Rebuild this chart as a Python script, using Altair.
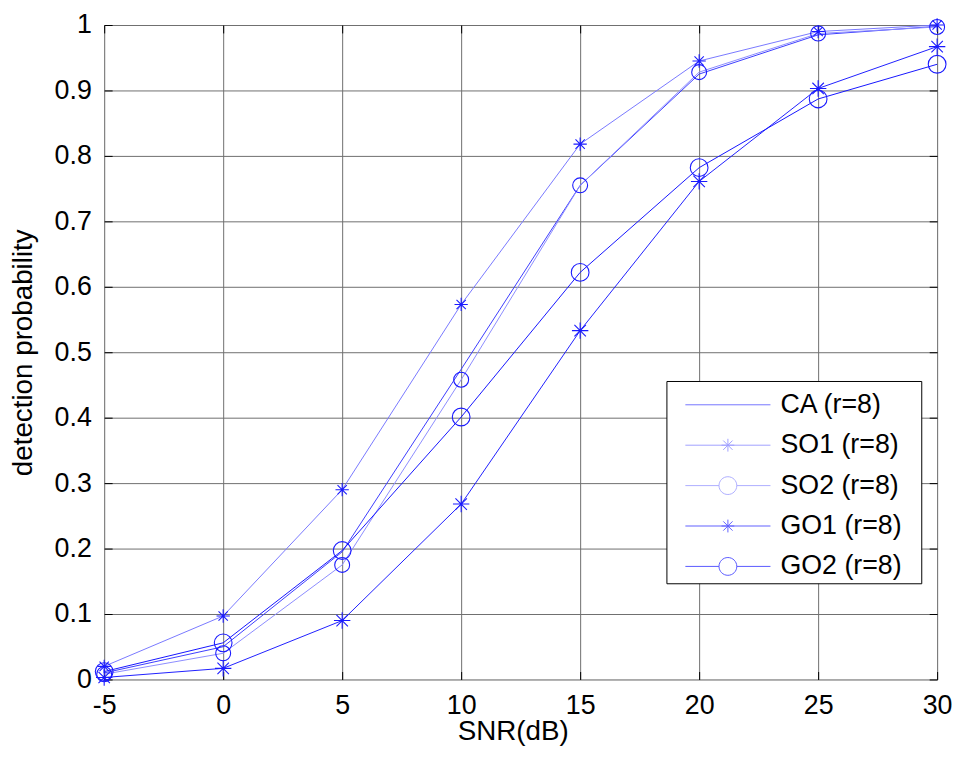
import altair as alt
import pandas as pd

snr = [-5, 0, 5, 10, 15, 20, 25, 30]
ca = [0.010, 0.050, 0.195, 0.474, 0.755, 0.925, 0.985, 0.998]
so1 = [0.020, 0.097, 0.290, 0.573, 0.818, 0.945, 0.990, 1.000]
so2 = [0.008, 0.040, 0.175, 0.458, 0.755, 0.928, 0.987, 0.997]
go1 = [0.003, 0.017, 0.090, 0.268, 0.533, 0.761, 0.903, 0.967]
go2 = [0.012, 0.056, 0.197, 0.401, 0.622, 0.782, 0.887, 0.940]

names = ["CA (r=8)", "SO1 (r=8)", "SO2 (r=8)", "GO1 (r=8)", "GO2 (r=8)"]
line_colors = ["#3c3cff", "#7878ff", "#8c8cff", "#1e1eff", "#1414ff"]
y_ticks = [0, 0.1, 0.2, 0.3, 0.4, 0.5, 0.6, 0.7, 0.8, 0.9, 1]

series = [ca, so1, so2, go1, go2]
rows = []
for name, vals in zip(names, series):
    for s, v in zip(snr, vals):
        rows.append({"snr": s, "p": v, "series": name})
df = pd.DataFrame(rows)

FONT = "Liberation Sans"
W, H = 840, 660

ASTER = "M-1,0L1,0M0,-1L0,1M-0.7,-0.7L0.7,0.7M-0.7,0.7L0.7,-0.7"
LEG_LINE = "M-2.2,0L2.2,0"
LEG_AST = "M-2.2,0L2.2,0M-0.33,0L0.33,0M0,-0.33L0,0.33M-0.24,-0.24L0.24,0.24M-0.24,0.24L0.24,-0.24"
LEG_CIRC = ("M-2.2,0L-0.46,0M0.46,0L2.2,0M0.46,0A0.46,0.46,0,1,1,-0.46,0"
            "A0.46,0.46,0,1,1,0.46,0")

xscale = alt.Scale(domain=[-5, 30], nice=False, zero=False)
yscale = alt.Scale(domain=[0, 1], nice=False, zero=False)
cscale = alt.Scale(domain=names, range=line_colors)

base_axis = dict(labelFont=FONT, labelColor="black", titleFont=FONT,
                 titleColor="black", titleFontWeight="normal",
                 labelFlush=False, labelOverlap=False,
                 labelExpr="'' + datum.value")

GRID = "#6e6e6e"

lines = alt.Chart(df).mark_line(strokeWidth=1).encode(
    x=alt.X("snr:Q", scale=xscale, axis=alt.Axis(
        values=snr, grid=True, gridColor=GRID, gridOpacity=1, gridWidth=1,
        ticks=False, tickSize=0, domain=False, labelFontSize=27,
        labelPadding=13, title="SNR(dB)", titleFontSize=28, titlePadding=0,
        titleX=412, orient="bottom", **base_axis)),
    y=alt.Y("p:Q", scale=yscale, axis=alt.Axis(
        values=y_ticks, grid=True, gridColor=GRID,
        gridOpacity=1, gridWidth=1, ticks=False, tickSize=0, domain=False,
        labelFontSize=27, labelPadding=13, title="detection probability",
        titleFontSize=28, titlePadding=17, orient="left", **base_axis)),
    color=alt.Color("series:N", scale=cscale, legend=None),
    order=alt.Order("snr:Q"),
)

tick_axis = dict(labels=False, domain=False, grid=False, ticks=True,
                 tickSize=8, tickColor="black", tickWidth=1, title=None)

points = alt.Chart(df).transform_filter(
    alt.datum.series != names[0]
).mark_point(filled=False, strokeWidth=1.1, color="#1a1aff", opacity=1).encode(
    x=alt.X("snr:Q", scale=xscale, axis=alt.Axis(
        values=snr, orient="top", offset=-H, **tick_axis)),
    y=alt.Y("p:Q", scale=yscale, axis=alt.Axis(
        values=y_ticks, orient="right", offset=-W, **tick_axis)),
    shape=alt.Shape("series:N", scale=alt.Scale(
        domain=names[1:], range=[ASTER, "circle", ASTER, "circle"]), legend=None),
    size=alt.Size("series:N", scale=alt.Scale(
        domain=names[1:], range=[180, 320, 180, 320]), legend=None),
)

legend_props = dict(
    title=None, orient="none", legendX=567, legendY=359, padding=4,
    rowPadding=7.75, symbolOffset=38, labelOffset=33, symbolSize=1521,
    symbolStrokeWidth=1, labelFont=FONT, labelFontSize=27,
    labelColor="black", strokeColor="black", fillColor="white",
    cornerRadius=0, labelLimit=300,
    labelExpr="datum.label + '\u00a0\u00a0\u200b'")

legend_layer = alt.Chart(df).transform_filter("false").mark_point(
    filled=False, strokeWidth=1
).encode(
    x=alt.X("snr:Q", scale=xscale, axis=alt.Axis(
        values=snr, orient="bottom", offset=-H, **tick_axis)),
    y=alt.Y("p:Q", scale=yscale, axis=alt.Axis(
        values=y_ticks, orient="left", offset=-W, **tick_axis)),
    color=alt.Color("series:N", scale=cscale, legend=alt.Legend(**legend_props)),
    shape=alt.Shape("series:N", scale=alt.Scale(
        domain=names, range=[LEG_LINE, LEG_AST, LEG_CIRC, LEG_AST, LEG_CIRC]),
        legend=alt.Legend(**legend_props)),
)

chart = alt.layer(lines, points, legend_layer).resolve_scale(
    shape="independent", size="independent", color="independent"
).resolve_axis(x="independent", y="independent").properties(
    width=W, height=H,
    autosize=alt.AutoSizeParams(type="none"),
    padding={"left": 97, "top": 14, "right": 15, "bottom": 70},
).configure_view(stroke="black", strokeWidth=1).configure(background="white")

chart.save("out.html", embed_options={"renderer": "svg", "actions": False})
